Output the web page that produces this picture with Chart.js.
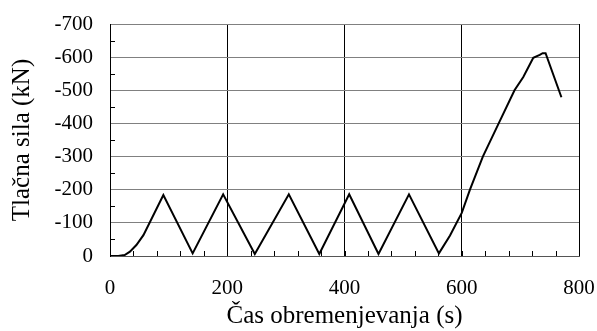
<!DOCTYPE html>
<html>
<head>
<meta charset="utf-8">
<script src="https://cdn.jsdelivr.net/npm/chart.js@4/dist/chart.umd.min.js"></script>
<style>
  html, body { margin: 0; padding: 0; background: #fff; }
  #wrap { width: 597px; height: 331px; }
</style>
</head>
<body>
<div id="wrap"><canvas id="loadChart" width="597" height="331"></canvas></div>
<script>
// time (s) and compressive force (kN)
const timeS = [0, 14, 25, 34, 45, 57, 91, 141, 193, 247, 305, 357, 408, 458, 510, 561,
  580, 600, 614, 636, 663, 690, 705, 722, 733, 738, 743, 770];
const forceKN = [0, 0, -3, -13, -33, -63, -184, -8, -186, -6, -186, -6, -186, -6, -186, -8,
  -62, -130, -200, -300, -400, -500, -540, -598, -607, -612, -612, -479];

const xTicks = [0, 200, 400, 600, 800];
const yTicks = [0, -100, -200, -300, -400, -500, -600, -700];

const serif = "'Liberation Serif', 'Times New Roman', serif";

// small inward tick marks (every 50 kN on y, every 40 s on x)
const minorTicks = {
  id: 'minorTicks',
  afterDraw(chart) {
    const { ctx, chartArea, scales } = chart;
    ctx.save();
    ctx.strokeStyle = '#000';
    ctx.lineWidth = 1;
    ctx.beginPath();
    for (let v = -50; v > -700; v -= 100) {
      const y = Math.round(scales.y.getPixelForValue(v)) + 0.5;
      ctx.moveTo(chartArea.left, y);
      ctx.lineTo(chartArea.left + 5, y);
    }
    for (let v = 40; v < 800; v += 40) {
      const x = Math.round(scales.x.getPixelForValue(v)) + 0.5;
      ctx.moveTo(x, chartArea.bottom);
      ctx.lineTo(x, chartArea.bottom - 5);
    }
    ctx.stroke();
    ctx.restore();
  }
};

const points = timeS.map((t, i) => ({ x: t, y: forceKN[i] }));

new Chart(document.getElementById('loadChart').getContext('2d'), {
  type: 'line',
  data: {
    datasets: [{
      data: points,
      borderColor: '#000',
      borderWidth: 2,
      pointRadius: 0,
      tension: 0,
      fill: false
    }]
  },
  options: {
    responsive: false,
    animation: false,
    events: [],
    layout: { padding: { left: 0, right: 18, top: 24, bottom: 0 } },
    plugins: { legend: { display: false }, tooltip: { enabled: false } },
    scales: {
      x: {
        type: 'linear',
        min: 0,
        max: 800,
        afterBuildTicks: s => { s.ticks = xTicks.map(v => ({ value: v })); },
        afterFit: s => {
          s.height = 75;
          s.paddingLeft = 0;
          s.paddingRight = 0;
        },
        ticks: {
          color: '#000',
          padding: 20,
          maxRotation: 0,
          font: { family: serif, size: 21 },
          callback: v => String(v)
        },
        grid: { color: '#000', lineWidth: 1, drawTicks: false },
        border: { color: '#555', width: 1 },
        title: {
          display: true,
          text: 'Čas obremenjevanja (s)',
          color: '#000',
          font: { family: serif, size: 25 },
          padding: { top: 0, bottom: 0 }
        }
      },
      y: {
        type: 'linear',
        min: -700,
        max: 0,
        reverse: true,
        afterBuildTicks: s => { s.ticks = yTicks.map(v => ({ value: v })); },
        afterFit: s => {
          s.width = 110;
          s.paddingTop = 0;
          s.paddingBottom = 0;
        },
        ticks: {
          color: '#000',
          padding: 17,
          font: { family: serif, size: 21 },
          callback: v => String(v)
        },
        grid: { color: '#808080', lineWidth: 1, drawTicks: false },
        border: { color: '#000', width: 1 },
        title: {
          display: true,
          text: 'Tlačna sila (kN)',
          color: '#000',
          font: { family: serif, size: 25 },
          padding: { top: 7, bottom: 0 }
        }
      }
    }
  },
  plugins: [minorTicks]
});
</script>
</body>
</html>
